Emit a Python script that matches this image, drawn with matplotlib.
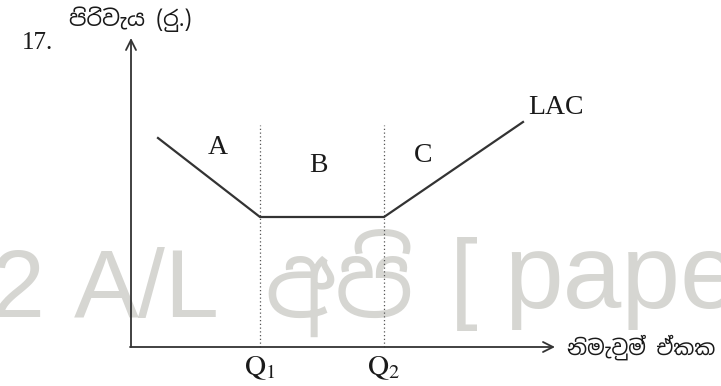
import matplotlib
matplotlib.use("Agg")
import matplotlib.pyplot as plt

plt.rcParams['mathtext.fontset'] = 'stix'

# Data (quantity vs. long-run average cost)
quantity = [28, 130, 254, 393]
lac_cost = [209, 130, 130, 225]
q_marks = [130, 254]
q_labels = [r'$\mathrm{Q}_1$', r'$\mathrm{Q}_2$']
region_labels = ['A', 'B', 'C']
region_pos = [(88, 199), (188, 182), (293, 192)]
y_label = 'පිරිවැය (රු.)'
x_label = 'නිමැවුම් ඒකක'
watermark_parts = ['2', 'A/L', 'අපි', '[', 'pape']

sinhala = ['Noto Sans Sinhala', 'Noto Serif Sinhala', 'Iskoola Pota', 'DejaVu Sans']
serif = ['Liberation Serif', 'DejaVu Serif']

fig = plt.figure(figsize=(7.21, 3.86), dpi=100)
ax = fig.add_axes([0, 0, 1, 1])
ax.set_xlim(-130, 591)
ax.set_ylim(-39, 347)
ax.axis('off')

# watermark (placed piece by piece)
wm_x = [-140, -56, 134, 320, 374]
wm_y = [30, 30, 30, 37, 39]
wm_size = [70, 70, 72, 72, 76]
for txt, x, y, s in zip(watermark_parts, wm_x, wm_y, wm_size):
    ax.text(x, y, txt, fontsize=s, color='#d6d6d2',
            family=['Liberation Sans'] + sinhala, ha='left', va='baseline', zorder=0)

# axes arrows
ax.annotate('', xy=(1, 309), xytext=(1, 0),
            arrowprops=dict(arrowstyle='->', color='#333333', lw=1.3,
                            mutation_scale=18, shrinkA=0, shrinkB=0), zorder=3)
ax.annotate('', xy=(425, 0), xytext=(0, 0),
            arrowprops=dict(arrowstyle='->', color='#333333', lw=1.3,
                            mutation_scale=18, shrinkA=0, shrinkB=0), zorder=3)

# dotted lines
for q in q_marks:
    ax.plot([q, q], [0, 222], linestyle=(0, (1, 2)), color='#555555', lw=0.9, zorder=2)

# LAC curve
ax.plot(quantity, lac_cost, color='#333333', lw=1.6, zorder=4, solid_joinstyle='miter')

for lab, (x, y) in zip(region_labels, region_pos):
    ax.text(x, y, lab, fontsize=20, family=serif, ha='center', va='center', color='#1a1a1a')
ax.text(426, 239, 'LAC', fontsize=20, family=serif, ha='center', va='center', color='#1a1a1a')

for q, lab in zip(q_marks, q_labels):
    ax.text(q, -21, lab, fontsize=21, ha='center', va='center', color='#1a1a1a')

ax.text(-108, 304, '17.', fontsize=18, family=serif, ha='left', va='center', color='#1a1a1a')
ax.text(0, 328, y_label, fontsize=16, family=sinhala, ha='center', va='center', color='#1a1a1a')
ax.text(437, 0, x_label, fontsize=15, family=sinhala, ha='left', va='center', color='#1a1a1a')

fig.savefig('out.png', dpi=100)
